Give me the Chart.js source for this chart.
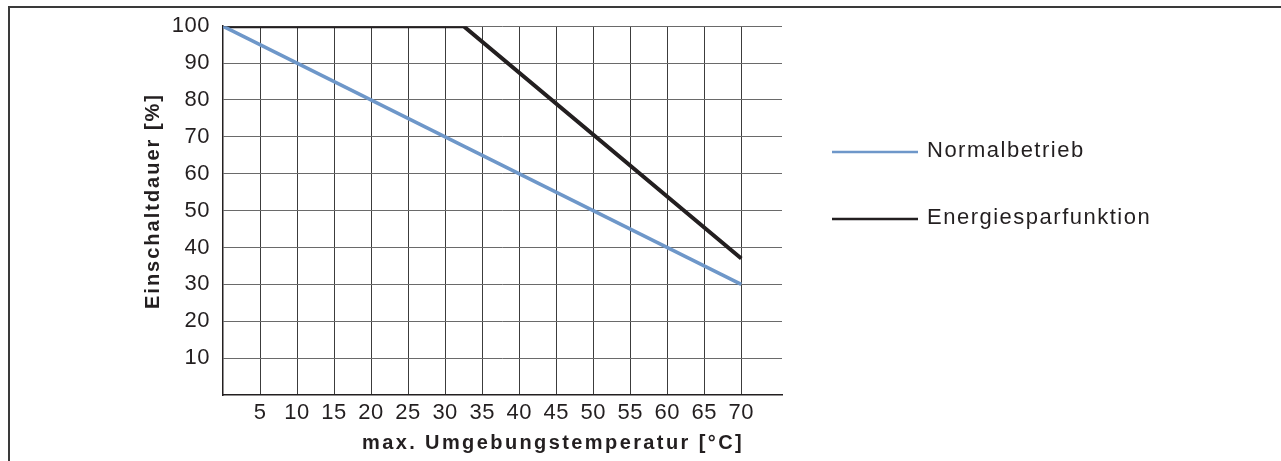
<!DOCTYPE html>
<html>
<head>
<meta charset="utf-8">
<script src="https://cdn.jsdelivr.net/npm/chart.js@4/dist/chart.umd.min.js"></script>
<style>
  html, body { margin: 0; padding: 0; background: #fff; }
  #wrap { position: relative; width: 1281px; height: 461px; overflow: hidden; }
  #frame { position: absolute; left: 8px; top: 6px; right: -10px; bottom: -10px;
           border-top: 2px solid #3a3a3a; border-left: 2px solid #3a3a3a; }
  canvas { position: absolute; left: 0; top: 0; }
</style>
</head>
<body>
<div id="wrap">
  <div id="frame"></div>
  <canvas id="chart" width="1281" height="461"></canvas>
</div>
<script>
// Werte
var xTicks = [5, 10, 15, 20, 25, 30, 35, 40, 45, 50, 55, 60, 65, 70];
var yTicks = [10, 20, 30, 40, 50, 60, 70, 80, 90, 100];

var normalLabel = "Normalbetrieb";
var normalX = [0, 70];
var normalY = [100, 30];

var energyLabel = "Energiesparfunktion";
var energyX = [0, 32.5, 70];
var energyY = [100, 100, 37];

var xTitle = "max. Umgebungstemperatur [°C]";
var yTitle = "Einschaltdauer [%]";

function toPoints(xs, ys){
	var pts = [];
	for(var i = 0; i < xs.length; i++){
		pts.push({x: xs[i], y: ys[i]});
	}
	return pts;
}

var fontFamily = "'Liberation Sans', Arial, Helvetica, sans-serif";
var textColor = "#231f20";

// etwas breitere Laufweite wie im Original
var spacing = {
	id: 'spacing',
	beforeUpdate: function(chart){ chart.ctx.letterSpacing = '0.5px'; },
	beforeLayout: function(chart){ chart.ctx.letterSpacing = '0.5px'; },
	beforeDraw: function(chart){ chart.ctx.letterSpacing = '0.5px'; }
};

// eigene Legende rechts neben dem Diagramm + Achsentitel
var sideLegend = {
	id: 'sideLegend',
	afterDraw: function(chart){
		var ctx = chart.ctx;
		var ys = [152, 219];
		ctx.save();
		chart.data.datasets.forEach(function(ds, i){
			ctx.strokeStyle = ds.borderColor;
			ctx.lineWidth = 2.5;
			ctx.beginPath();
			ctx.moveTo(832, ys[i]);
			ctx.lineTo(918, ys[i]);
			ctx.stroke();
			ctx.fillStyle = textColor;
			ctx.font = "22px " + fontFamily;
			ctx.letterSpacing = '1.5px';
			ctx.textAlign = 'left';
			ctx.textBaseline = 'middle';
			ctx.fillText(ds.label, 927, ys[i] - 1);
		});
		ctx.font = "bold 20px " + fontFamily;
		ctx.letterSpacing = '2.4px';
		ctx.textAlign = 'center';
		ctx.textBaseline = 'middle';
		ctx.fillText(xTitle, 553, 443);

		ctx.letterSpacing = '2px';
		ctx.translate(153, 201);
		ctx.rotate(-Math.PI / 2);
		ctx.fillText(yTitle, 0, 0);
		ctx.restore();
	}
};

var ctx = document.getElementById('chart').getContext('2d');
var myChart = new Chart(ctx, {
	type: 'line',
	data: {
		datasets: [{
			label: normalLabel,
			data: toPoints(normalX, normalY),
			borderColor: '#6e97c9',
			borderWidth: 3.5,
			pointRadius: 0,
			tension: 0
		}, {
			label: energyLabel,
			data: toPoints(energyX, energyY),
			borderColor: '#231f20',
			borderWidth: 4,
			pointRadius: 0,
			tension: 0
		}]
	},
	options: {
		responsive: false,
		animation: false,
		layout: { padding: { left: 0, top: 25, right: 499, bottom: 0 } },
		plugins: {
			legend: { display: false },
			tooltip: { enabled: false }
		},
		scales: {
			x: {
				type: 'linear',
				min: 0,
				max: 75.5,
				afterBuildTicks: function(s){ s.ticks = xTicks.map(function(v){ return {value: v}; }); },
				afterFit: function(s){ s.height = 66; },
				ticks: {
					autoSkip: false,
					maxRotation: 0,
					padding: 5,
					color: textColor,
					font: { family: fontFamily, size: 22 }
				},
				grid: { color: '#3c3c3c', lineWidth: 1, drawTicks: false },
				border: { display: true, color: '#231f20', width: 1.5 }
			},
			y: {
				type: 'linear',
				min: 0,
				max: 100,
				afterBuildTicks: function(s){ s.ticks = yTicks.map(function(v){ return {value: v}; }); },
				afterFit: function(s){ s.width = 223; },
				ticks: {
					autoSkip: false,
					padding: 13,
					color: textColor,
					font: { family: fontFamily, size: 22 }
				},
				grid: { color: '#6a6a6a', lineWidth: 1, drawTicks: false },
				border: { display: true, color: '#231f20', width: 1.5 }
			}
		}
	},
	plugins: [spacing, sideLegend]
});
</script>
</body>
</html>
